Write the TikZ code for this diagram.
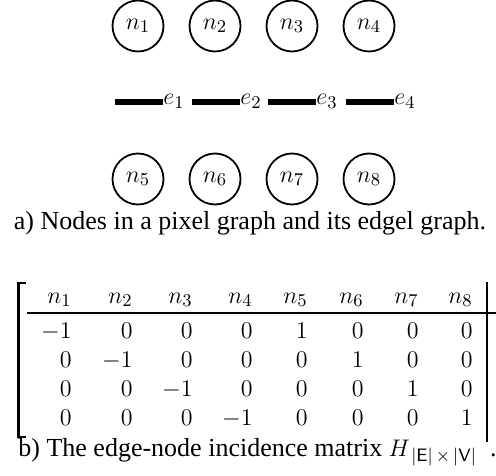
\documentclass[tikz,border=0pt]{standalone}
\usepackage[no-math]{fontspec}
\setmainfont{Liberation Serif}
\begin{document}
\begin{tikzpicture}[x=0.5pt,y=-0.5pt,
  pnode/.style={circle,draw,line width=0.9pt,minimum size=25.5pt,inner sep=0pt,font=\fontsize{12.5}{14}\selectfont},
  elabel/.style={anchor=base west,inner sep=0pt,font=\fontsize{12.5}{14}\selectfont},
  edgel/.style={line width=3.4pt},
  cell/.style={anchor=base east,inner sep=0pt,font=\fontsize{12.5}{14}\selectfont},
  captext/.style={inner sep=0pt,font=\fontsize{13}{15}\selectfont},
  mline/.style={line width=1.1pt}]
\useasboundingbox (0,0) rectangle (496,475);
% pixel nodes
\foreach \i/\x in {1/138,2/215,3/292,4/369}{
  \node[pnode] (n\i) at (\x,26) {$n_{\i}$};
}
\foreach \i/\x in {5/138,6/215,7/292,8/369}{
  \node[pnode] (n\i) at (\x,179) {$n_{\i}$};
}
% edgels
\foreach \i/\xs/\xl in {1/115/163,2/192/240,3/268/316,4/346/394}{
  \node[elabel] (e\i) at (\xl,105) {$e_{\i}$};
  \coordinate (s\i) at (\xs,102);
  \draw[edgel] (s\i) -- (s\i -| e\i.west);
}
\node[captext,anchor=base] (capa) at (250,229) {a) Nodes in a pixel graph and its edgel graph.};
% matrix
\foreach \c/\x in {1/72,2/133,3/193,4/253,5/308,6/364,7/419,8/473}{
  \node[cell] (h\c) at (\x,303) {$n_{\c}$};
}
\foreach \r/\y/\vals in {1/338/{-1,0,0,0,1,0,0,0},2/367/{0,-1,0,0,0,1,0,0},3/396/{0,0,-1,0,0,0,1,0},4/425/{0,0,0,-1,0,0,0,1}}{
  \foreach \v [count=\c] in \vals {
    \pgfmathsetmacro{\xx}{{72,133,193,253,308,364,419,473}[\c-1]}
    \node[cell] (m\r\c) at (\xx,\y) {$\v$};
  }
}
\coordinate (rl) at (27,313);
\coordinate (rr) at (496,313);
\draw[mline] (rl) -- (rr);
\coordinate (bt) at (26,283);
\coordinate (bb) at (26,437);
\draw[mline] (bt) -- ++(-7.5,0) |- (bb);
\coordinate (vt) at (487,282);
\coordinate (vb) at (487,442);
\draw[mline] (vt) -- (vb);
\node[captext,anchor=base west] (capb) at (18,456) {b) The edge-node incidence matrix $H_{\,|\mathsf{E}|\,\times\,|\mathsf{V}|}$\ \ .};
\end{tikzpicture}
\end{document}
